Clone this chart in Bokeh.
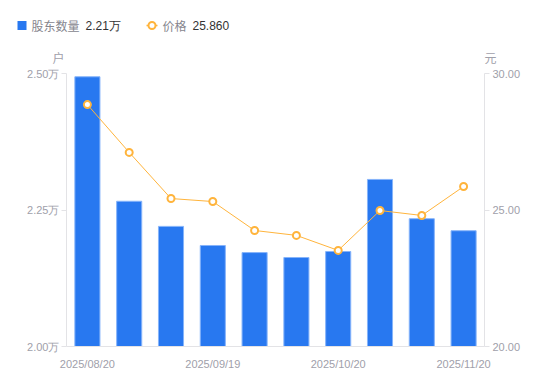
from bokeh.plotting import figure
from bokeh.layouts import column
from bokeh.models import (Range1d, LinearAxis, FixedTicker, ColumnDataSource,
                          PrintfTickFormatter)
from bokeh.core.properties import value
from bokeh.embed import file_html
from bokeh.resources import INLINE

# ---- data ----
dates = ["2025/08/20", "2025/08/31", "2025/09/10", "2025/09/19", "2025/09/30",
         "2025/10/10", "2025/10/20", "2025/10/31", "2025/11/10", "2025/11/20"]
holders = [2.494, 2.266, 2.220, 2.185, 2.172, 2.163, 2.174, 2.306, 2.234, 2.212]  # 万户
prices = [28.86, 27.11, 25.42, 25.31, 24.25, 24.07, 23.52, 24.98, 24.80, 25.86]  # 元
shown_dates = ["2025/08/20", "2025/09/19", "2025/10/20", "2025/11/20"]
left_ticks = [2.00, 2.25, 2.50]
right_ticks = [20.0, 25.0, 30.0]
legend_names = ["股东数量", "价格"]
legend_values = ["2.21万", "25.860"]
left_unit = "户"
right_unit = "元"

BLUE = "#2878F0"
ORANGE = "#FFB43C"
GRAY = "#A0A0AA"
AXIS = "#E3E3E6"
FONT = "Liberation Sans"
CJK = "Noto Sans CJK SC"

W = 542
HEAD_H = 66

# ---------- header (legend + unit labels) ----------
h = figure(width=W, height=HEAD_H, output_backend="svg", toolbar_location=None,
           x_range=Range1d(0, W), y_range=Range1d(HEAD_H, 0),
           min_border=0, outline_line_color=None, frame_align=False)
h.axis.visible = False
h.grid.visible = False

h.rect(x=[21.5], y=[25], width=9, height=9, fill_color=BLUE, line_color=None)
h.line(x=[146, 157], y=[25, 25], line_color=ORANGE, line_width=1.5)
h.scatter(x=[151.5], y=[25], size=7, fill_color="white", line_color=ORANGE,
          line_width=2)
h.text(x=[31, 162], y=[25, 25], text=legend_names, text_color="#86868E",
       text_font=value(CJK), text_font_size="12px", text_baseline="middle",
       text_align="left")
h.text(x=[85, 192], y=[25, 25], text=legend_values, text_color="#333333",
       text_font=value(FONT), text_font_size="12px", text_baseline="middle",
       text_align="left")
h.text(x=[58, 490], y=[57, 57], text=[left_unit, right_unit], text_color=GRAY,
       text_font=value(CJK), text_font_size="12px", text_baseline="middle",
       text_align="center")

# ---------- main chart ----------
xs = list(range(len(dates)))
src = ColumnDataSource(dict(x=xs, holders=holders, prices=prices))

p = figure(width=W, height=373 - HEAD_H, output_backend="svg", toolbar_location=None,
           x_range=Range1d(-0.5, len(dates) - 0.5),
           y_range=Range1d(left_ticks[0], left_ticks[-1]),
           min_border_left=66, min_border_right=W - 66 - 418,
           min_border_top=73 - HEAD_H, min_border_bottom=27, frame_align=False)
p.extra_y_ranges = {"price": Range1d(right_ticks[0], right_ticks[-1])}
p.outline_line_color = None
p.xgrid.visible = False
p.ygrid.visible = False

p.vbar(x="x", top="holders", bottom=left_ticks[0], width=0.6, source=src,
       fill_color=BLUE, line_color="#86B4FA", line_width=1)
p.line(x="x", y="prices", source=src, y_range_name="price",
       line_color=ORANGE, line_width=1)
p.scatter(x="x", y="prices", source=src, y_range_name="price", size=7,
          fill_color="white", line_color=ORANGE, line_width=2)

# x axis
xa = p.xaxis[0]
xa.ticker = FixedTicker(ticks=[dates.index(d) for d in shown_dates])
xa.major_label_overrides = {dates.index(d): d for d in shown_dates}
xa.major_tick_line_color = None
xa.minor_tick_line_color = None
xa.axis_line_color = AXIS
xa.major_label_text_color = GRAY
xa.major_label_text_font = FONT
xa.major_label_text_font_size = "11px"
xa.major_label_standoff = 5

# left axis
ya = p.yaxis[0]
ya.ticker = FixedTicker(ticks=left_ticks)
ya.formatter = PrintfTickFormatter(format="%.2f万")
ya.axis_line_color = AXIS
ya.major_tick_line_color = AXIS
ya.major_tick_out = 5
ya.major_tick_in = 0
ya.minor_tick_line_color = None
ya.major_label_text_color = GRAY
ya.major_label_text_font = FONT
ya.major_label_text_font_size = "11px"
ya.major_label_standoff = 2

# right axis
ra = LinearAxis(y_range_name="price", ticker=FixedTicker(ticks=right_ticks),
                formatter=PrintfTickFormatter(format="%.2f"))
ra.axis_line_color = AXIS
ra.major_tick_line_color = AXIS
ra.major_tick_out = 5
ra.major_tick_in = 0
ra.minor_tick_line_color = None
ra.major_label_text_color = GRAY
ra.major_label_text_font = FONT
ra.major_label_text_font_size = "11px"
ra.major_label_standoff = 3
p.add_layout(ra, "right")

layout = column(h, p, spacing=0)
open("out.html", "w").write(file_html(layout, INLINE))
